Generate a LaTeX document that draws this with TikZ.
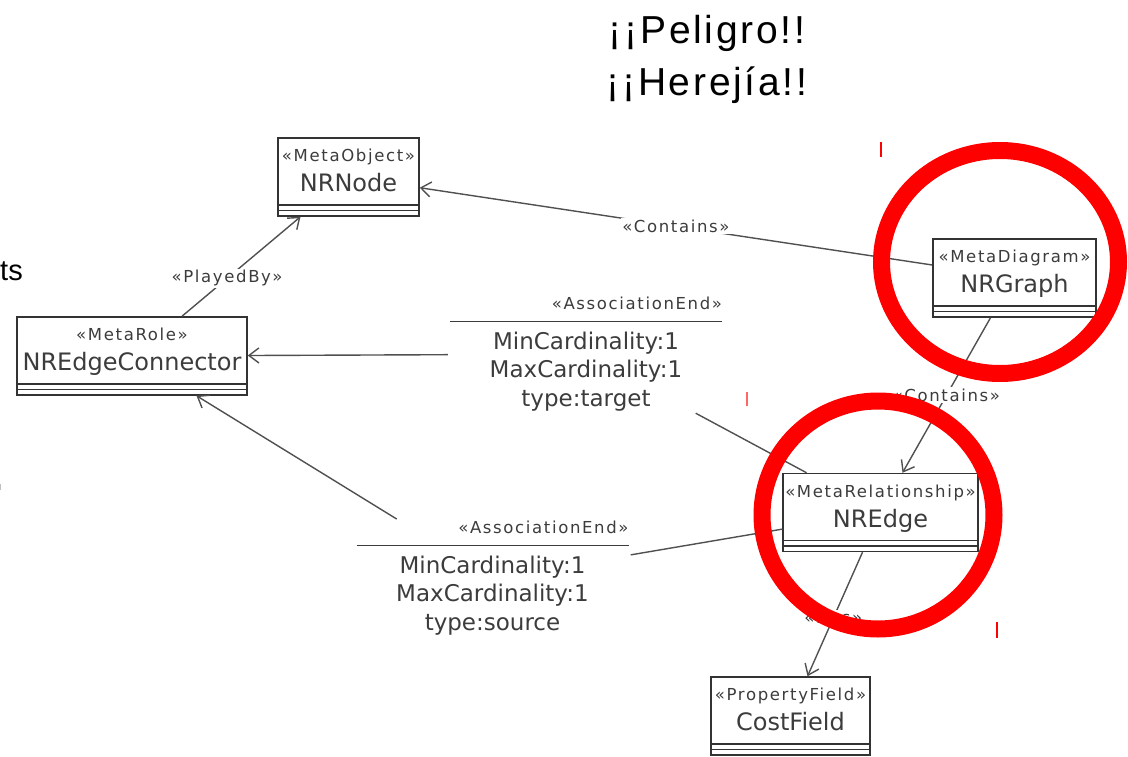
\documentclass[tikz,border=0pt]{standalone}
\usepackage{fontspec}
\setmainfont{DejaVu Sans}
\newfontfamily\stereofamily[LetterSpace=10]{DejaVu Sans}
\newfontfamily\titlefamily[LetterSpace=7]{Liberation Sans}
\newfontfamily\plainfamily{Liberation Sans}
\usetikzlibrary{positioning,arrows.meta}
\definecolor{txtgray}{HTML}{3C3C3C}
\definecolor{boxgray}{HTML}{333333}
\definecolor{linegray}{HTML}{505050}
\definecolor{markred}{HTML}{FF0000}
\newcommand{\stereofont}{\stereofamily\fontsize{16.5pt}{18pt}\selectfont}

\begin{document}
\begin{tikzpicture}[x=1pt,y=-1pt,
    umlclass/.style={draw=boxgray,line width=1.5pt,fill=white,inner sep=0pt,minimum height=78pt,
      path picture={\draw[boxgray,line width=1.3pt]
        ([yshift=11pt]path picture bounding box.south west)--([yshift=11pt]path picture bounding box.south east)
        ([yshift=5.5pt]path picture bounding box.south west)--([yshift=5.5pt]path picture bounding box.south east);}},
    classtext/.style={text=txtgray,align=center,inner sep=0pt,font=\fontsize{24pt}{30pt}\selectfont},
    endtext/.style={text=txtgray,align=center,inner sep=2pt,anchor=north,font=\fontsize{23pt}{28.5pt}\selectfont},
    assoc/.style={draw=linegray,line width=1.4pt,-{Straight Barb[length=10pt,width=15pt]}},
    link/.style={draw=linegray,line width=1.4pt},
    conlabel/.style={text=txtgray,fill=white,inner sep=1.5pt,font=\stereofont},
    redmark/.style={draw=markred,line width=17pt}]
  \useasboundingbox (0,0) rectangle (1128,757);
  % Title
  \node[anchor=north,inner sep=0pt,align=center,font=\titlefamily\fontsize{39pt}{52pt}\selectfont](title)at(707,15){¡¡Peligro!!\\¡¡Herejía!!};
  \node[anchor=base east,inner sep=0pt,font=\plainfamily\fontsize{29pt}{34pt}\selectfont](ts)at(23,280){ts};
  % Classes
  \node[umlclass,minimum width=141pt](nrnode)at(348.5,177){};
  \node[classtext,below=12pt of nrnode.north](nrnodetext){{\stereofont «MetaObject»}\\NRNode};
  \node[umlclass,minimum width=163pt](nrgraph)at(1014.5,278){};
  \node[classtext,below=12pt of nrgraph.north](nrgraphtext){{\stereofont «MetaDiagram»}\\NRGraph};
  \node[umlclass,minimum width=230pt](nredgeconn)at(132,356){};
  \node[classtext,below=12pt of nredgeconn.north](nredgeconntext){{\stereofont «MetaRole»}\\NREdgeConnector};
  \node[umlclass,minimum width=195pt](nredge)at(880.5,512.5){};
  \node[classtext,below=12pt of nredge.north](nredgetext){{\stereofont «MetaRelationship»}\\NREdge};
  \node[umlclass,minimum width=159pt](costfield)at(790.5,716){};
  \node[classtext,below=12pt of costfield.north](costfieldtext){{\stereofont «PropertyField»}\\CostField};
  % Association ends
  \node[endtext](tgtend)at(586,295){\makebox[272pt][r]{\stereofont «AssociationEnd»}\\[-16pt]\rule{272pt}{1.3pt}\\[-1.5pt]MinCardinality:1\\MaxCardinality:1\\type:target};
  \node[endtext](srcend)at(492.5,519){\makebox[272pt][r]{\stereofont «AssociationEnd»}\\[-16pt]\rule{272pt}{1.3pt}\\[-1.5pt]MinCardinality:1\\MaxCardinality:1\\type:source};
  % Connectors
  \draw[assoc]([yshift=13pt]nrgraph.west)--node[conlabel]{«Contains»}(nrnode);
  \draw[assoc]([xshift=50pt]nredgeconn.north)--node[conlabel,pos=0.38]{«PlayedBy»}([xshift=-48pt]nrnode.south);
  \draw[assoc]([xshift=-24pt]nrgraph.south)--node[conlabel]{«Contains»}([xshift=22pt]nredge.north);
  \draw[assoc]([xshift=-18pt]nredge.south)--node[conlabel,pos=0.53]{«Has»}([xshift=17pt]costfield.north);
  \draw[link](nredge)--(tgtend);
  \draw[assoc](tgtend)--(nredgeconn);
  \draw[link](nredge)--(srcend);
  \draw[assoc](srcend)--(nredgeconn);
  % Red marks
  \draw[redmark](1000,262)ellipse[x radius=118.5pt,y radius=111.5pt];
  \draw[redmark](878,515)ellipse[x radius=116pt,y radius=114pt];
  \draw[markred,line width=1.2pt](881,142)--(881,157);
  \draw[markred!60,line width=1.2pt](747,392)--(747,406);
  \draw[markred,line width=1.2pt](997,622)--(997,638);
  \draw[black!25,line width=1pt](0.5,484)--(0.5,490);
\end{tikzpicture}
\end{document}
